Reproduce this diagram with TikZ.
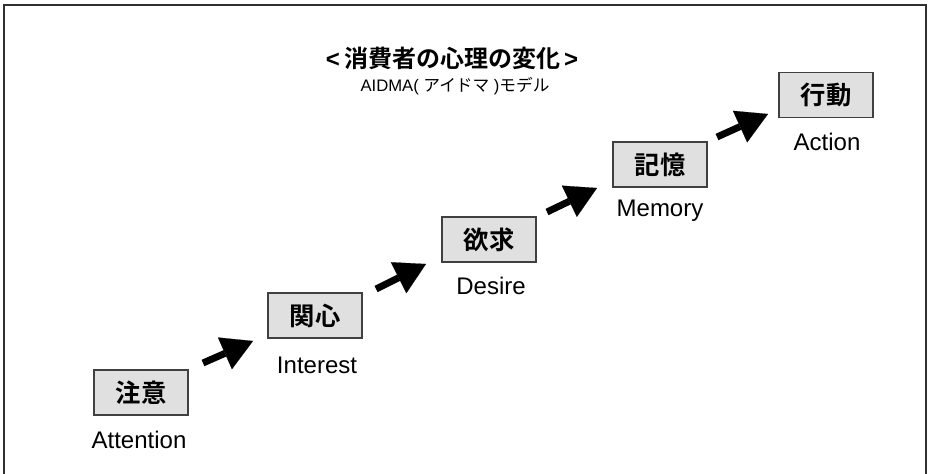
\documentclass[tikz,border=0pt]{standalone}
\usepackage{fontspec}
\setmainfont{Liberation Sans}
\newfontfamily\cjk{Noto Sans CJK JP}[BoldFont={Noto Sans CJK JP Bold}]
\usetikzlibrary{arrows.meta}
\definecolor{boxfill}{HTML}{E0E0E0}
\definecolor{boxline}{HTML}{404040}
\definecolor{frameline}{HTML}{303030}
\tikzset{
  stagebox/.style={draw=boxline, line width=0.8pt, fill=boxfill, minimum width=70.5pt, minimum height=33.75pt, inner sep=0pt, font=\cjk\bfseries\fontsize{19pt}{22pt}\selectfont},
  stagelbl/.style={inner sep=0pt, font=\fontsize{18pt}{21pt}\selectfont},
  bigarrow/.style={line width=5.2pt, -{Triangle[length=23pt,width=26pt,line width=0.1pt]}},
}
\begin{document}
\begin{tikzpicture}[x=0.75pt,y=-0.75pt]
\useasboundingbox (0,0) rectangle (928,474);
\draw[frameline, line width=1.6pt] (4,474) -- (4,5) -- (926,5) -- (926,474);
\node[inner sep=0pt, font=\bfseries\fontsize{18pt}{21pt}\selectfont] (title) at (452,58) {<\,{\cjk\bfseries 消費者の心理の変化}\,>};
\node[inner sep=0pt, font=\fontsize{12.5pt}{15pt}\selectfont] (sub) at (455,86) {AIDMA( {\cjk アイドマ} ){\cjk モデル}};
\node[stagebox] (b1) at (141,392.5) {注意};
\node[stagelbl] (l1) at (139,440) {Attention};
\node[stagebox] (b2) at (315,315.5) {関心};
\node[stagelbl] (l2) at (317,365) {Interest};
\node[stagebox] (b3) at (489,239.5) {欲求};
\node[stagelbl] (l3) at (491,286) {Desire};
\node[stagebox] (b4) at (660,164.5) {記憶};
\node[stagelbl] (l4) at (660,211) {Memory};
\node[stagebox] (b5) at (826,95) {行動};
\node[stagelbl] (l5) at (827,142) {Action};
\coordinate (a1s) at (203,363); \coordinate (a1e) at (253,341);
\coordinate (a2s) at (376,289); \coordinate (a2e) at (426,264);
\coordinate (a3s) at (547,212); \coordinate (a3e) at (597,188);
\coordinate (a4s) at (717,137); \coordinate (a4e) at (768,114);
\draw[bigarrow] (a1s) -- (a1e);
\draw[bigarrow] (a2s) -- (a2e);
\draw[bigarrow] (a3s) -- (a3e);
\draw[bigarrow] (a4s) -- (a4e);
\end{tikzpicture}
\end{document}
